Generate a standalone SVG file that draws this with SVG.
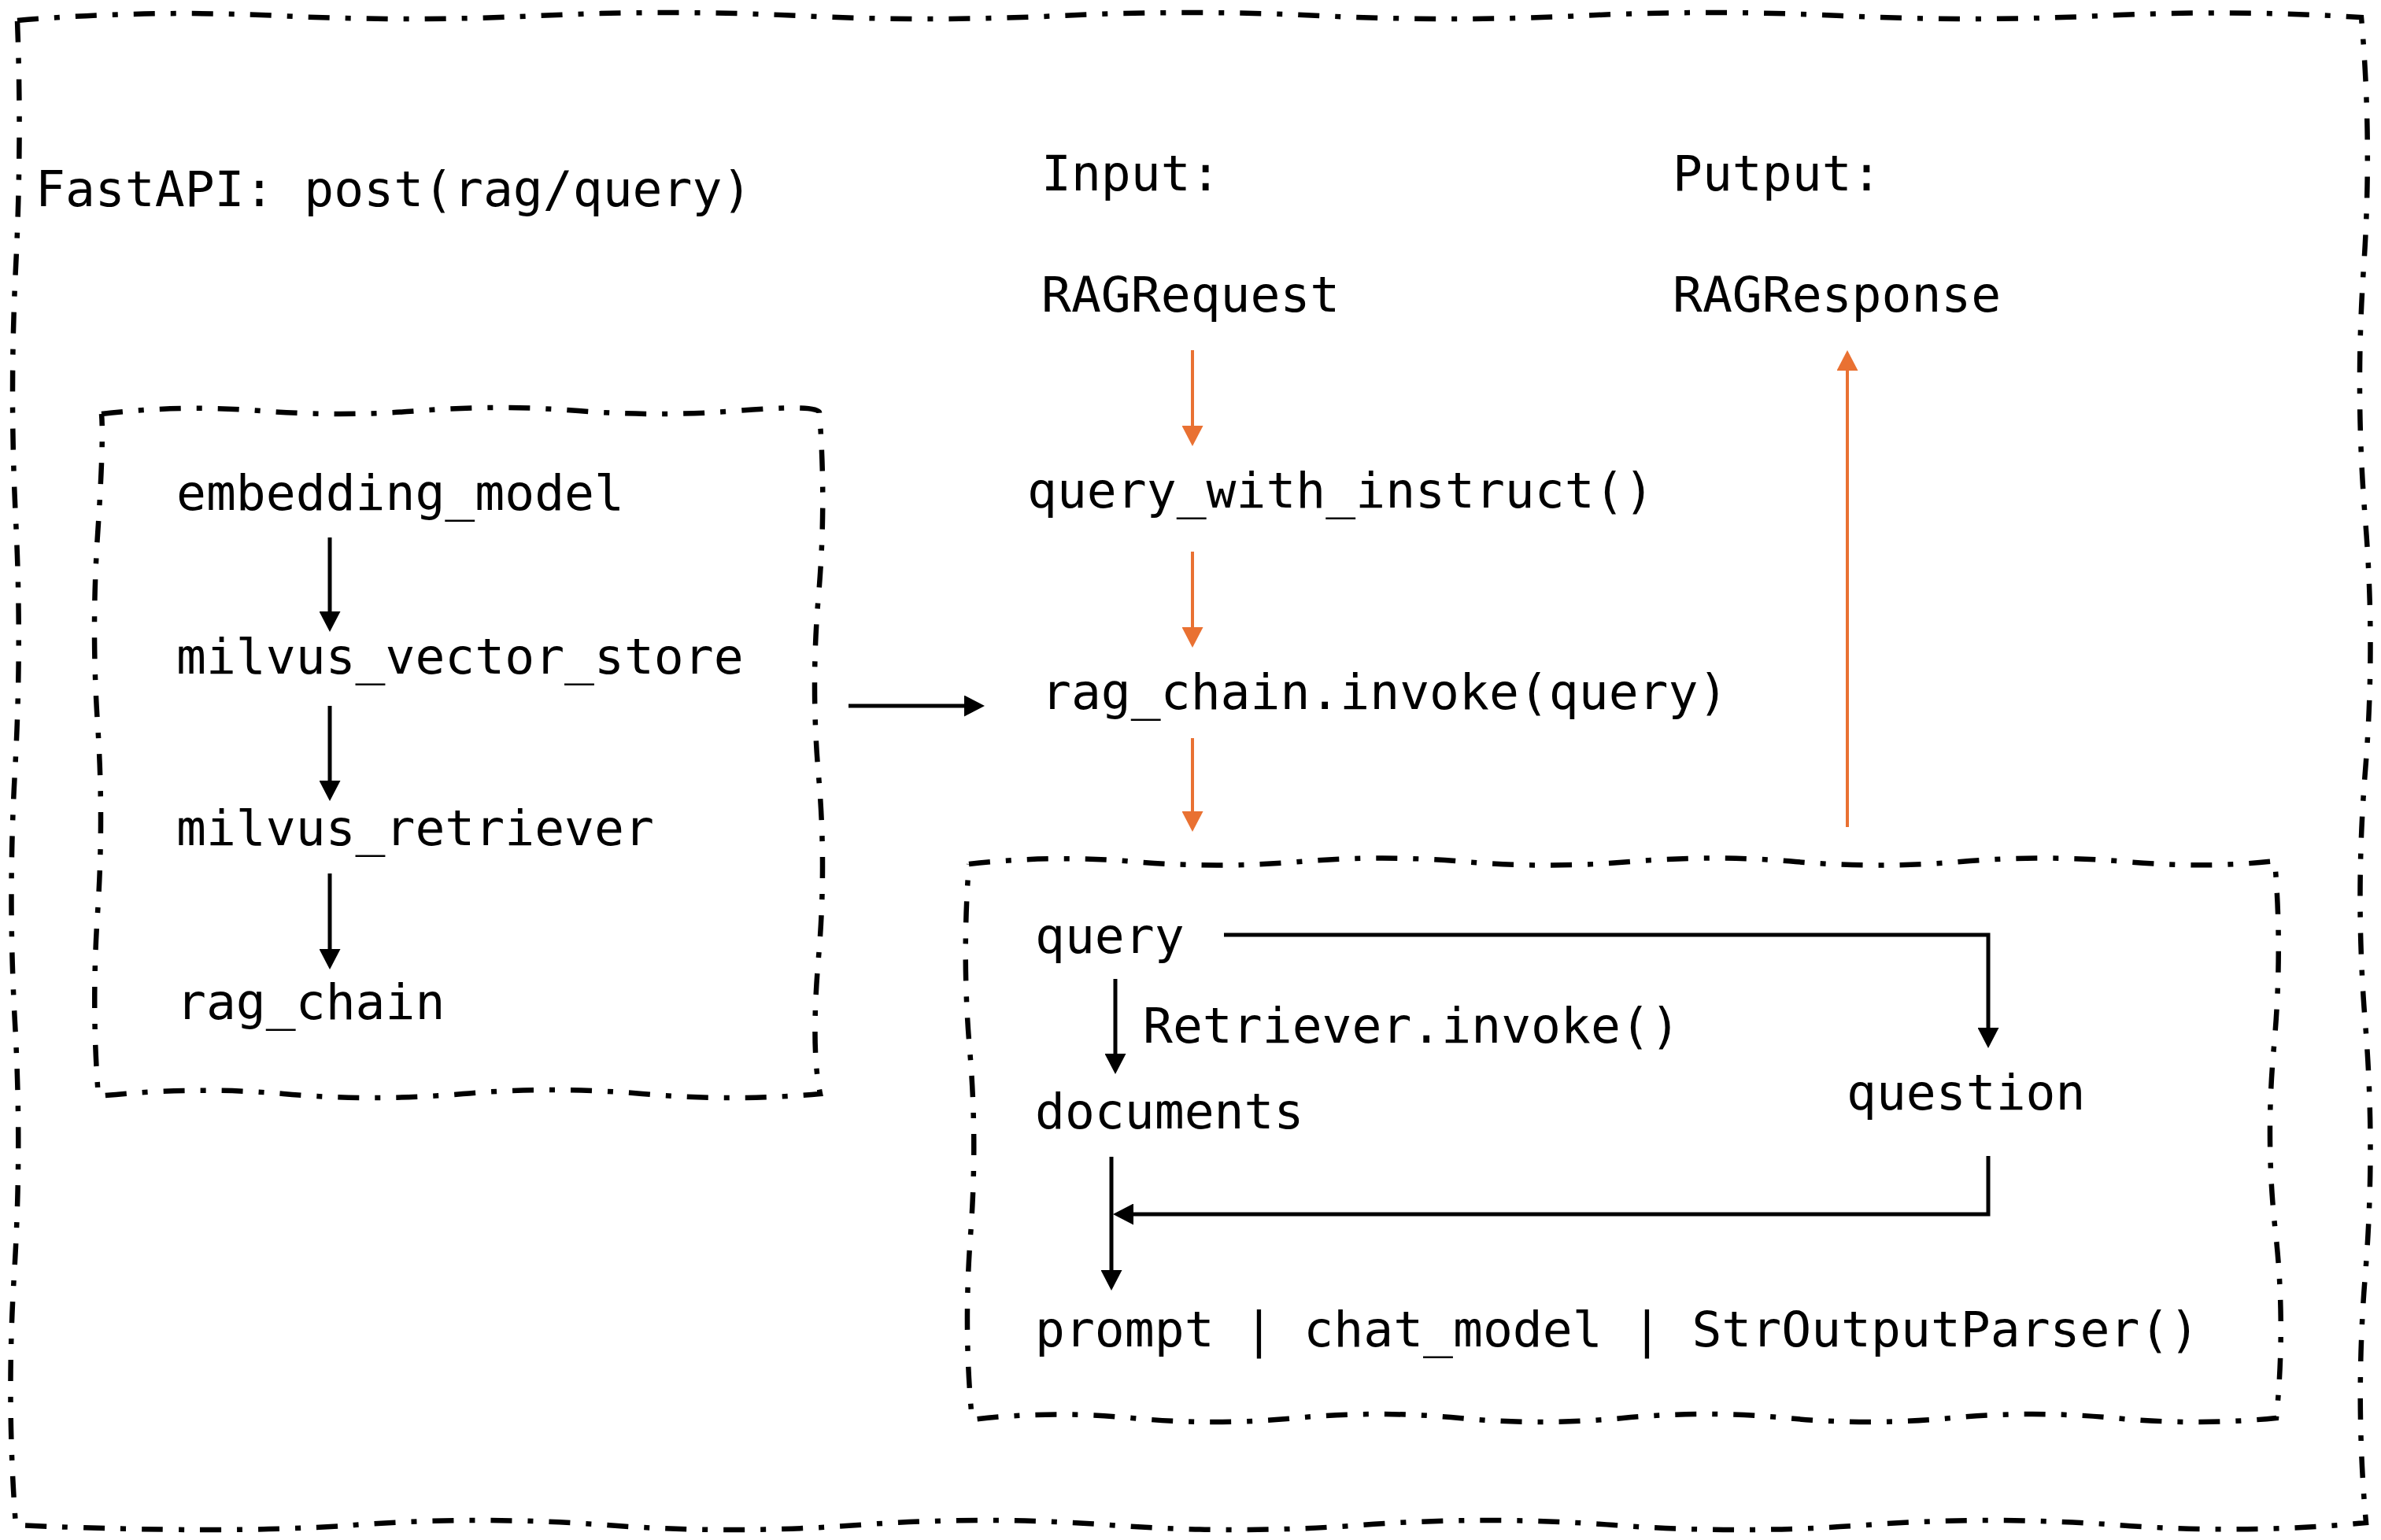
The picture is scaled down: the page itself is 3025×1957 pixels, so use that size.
<svg xmlns="http://www.w3.org/2000/svg" width="3025" height="1957" viewBox="0 0 3025 1957">
<style>
.frame{fill:none;stroke:#000;stroke-width:6.5;stroke-dasharray:27 20 7 20}
.t{font-family:"DejaVu Sans Mono","Liberation Mono",monospace;font-size:63px;fill:#000}
.bk{fill:none;stroke:#000;stroke-width:5}
.or{fill:none;stroke:#E97132;stroke-width:4}
</style>
<defs>
<marker id="ab" markerUnits="userSpaceOnUse" markerWidth="26" markerHeight="27" refX="6" refY="13.5" orient="auto" viewBox="0 0 26 27"><path d="M0,0L26,13.5L0,27z" fill="#000"/></marker>
<marker id="ao" markerUnits="userSpaceOnUse" markerWidth="26" markerHeight="27" refX="6" refY="13.5" orient="auto" viewBox="0 0 26 27"><path d="M0,0L26,13.5L0,27z" fill="#E97132"/></marker>
</defs>
<rect width="3025" height="1957" fill="#fff"/>
<g id="outer">
<path class="frame" d="M22 26 Q187 12 353 20 T684 20 T1015 20 T1346 20 T1677 20 T2008 20 T2339 20 T2670 20 T3000 22 Q3014 180 3003 340 T3005 660 T3005 980 T3005 1300 T3005 1620 T3006 1935 Q2850 1950 2690 1938 T2370 1938 T2050 1938 T1730 1938 T1410 1938 T1090 1938 T770 1938 T450 1938 T20 1938 Q8 1780 18 1620 T19 1300 T19 980 T20 660 T20 340 T22 26"/>
<text class="t" x="45" y="262">FastAPI: post(rag/query)</text>
</g>
<g id="left-box">
<path class="frame" d="M129 526 Q230 514 331 522 T533 522 T735 522 T937 522 T1041 524 Q1050 640 1040 756 T1040 986 T1040 1216 T1042 1390 Q930 1400 816 1390 T588 1390 T360 1390 T125 1393 Q116 1280 124 1160 T124 920 T124 680 T129 526"/>
</g>
<g id="embedding_model"><text class="t" x="224" y="648">embedding_model</text></g>
<g id="milvus_vector_store"><text class="t" x="224" y="856">milvus_vector_store</text></g>
<g id="milvus_retriever"><text class="t" x="224" y="1074">milvus_retriever</text></g>
<g id="rag_chain"><text class="t" x="224" y="1295">rag_chain</text></g>
<g id="input-label"><text class="t" x="1323" y="242">Input:</text></g>
<g id="output-label"><text class="t" x="2125" y="242">Putput:</text></g>
<g id="RAGRequest"><text class="t" x="1323" y="396">RAGRequest</text></g>
<g id="RAGResponse"><text class="t" x="2125" y="396">RAGResponse</text></g>
<g id="query_with_instruct"><text class="t" x="1305" y="645">query_with_instruct()</text></g>
<g id="rag_chain_invoke"><text class="t" x="1323" y="901">rag_chain.invoke(query)</text></g>
<g id="chain-box">
<path class="frame" d="M1231 1098 Q1336 1086 1441 1095 T1651 1095 T1861 1095 T2071 1095 T2281 1095 T2491 1095 T2701 1095 T2890 1094 Q2900 1210 2889 1330 T2891 1566 T2892 1802 Q2790 1812 2686 1802 T2478 1802 T2270 1802 T2062 1802 T1854 1802 T1646 1802 T1438 1802 T1235 1804 Q1224 1690 1233 1570 T1232 1334 T1231 1098"/>
</g>
<g id="query"><text class="t" x="1315" y="1211">query</text></g>
<g id="retriever-label"><text class="t" x="1452" y="1325">Retriever.invoke()</text></g>
<g id="documents"><text class="t" x="1315" y="1434">documents</text></g>
<g id="question"><text class="t" x="2346" y="1410">question</text></g>
<g id="prompt"><text class="t" x="1315" y="1711">prompt | chat_model | StrOutputParser()</text></g>
<g id="connectors">
<path class="bk" d="M419 683V783" marker-end="url(#ab)"/>
<path class="bk" d="M419 897V998" marker-end="url(#ab)"/>
<path class="bk" d="M419 1110V1212" marker-end="url(#ab)"/>
<path class="bk" d="M1078 897H1231" marker-end="url(#ab)"/>
<path class="or" d="M1515 445V547" marker-end="url(#ao)"/>
<path class="or" d="M1515 701V803" marker-end="url(#ao)"/>
<path class="or" d="M1515 938V1037" marker-end="url(#ao)"/>
<path class="or" d="M2347 1051V465" marker-end="url(#ao)"/>
<path class="bk" d="M1555 1188H2526V1312" marker-end="url(#ab)"/>
<path class="bk" d="M1417 1244V1345" marker-end="url(#ab)"/>
<path class="bk" d="M1412 1470V1620" marker-end="url(#ab)"/>
<path class="bk" d="M2526 1469V1543H1434" marker-end="url(#ab)"/>
</g>
</svg>
